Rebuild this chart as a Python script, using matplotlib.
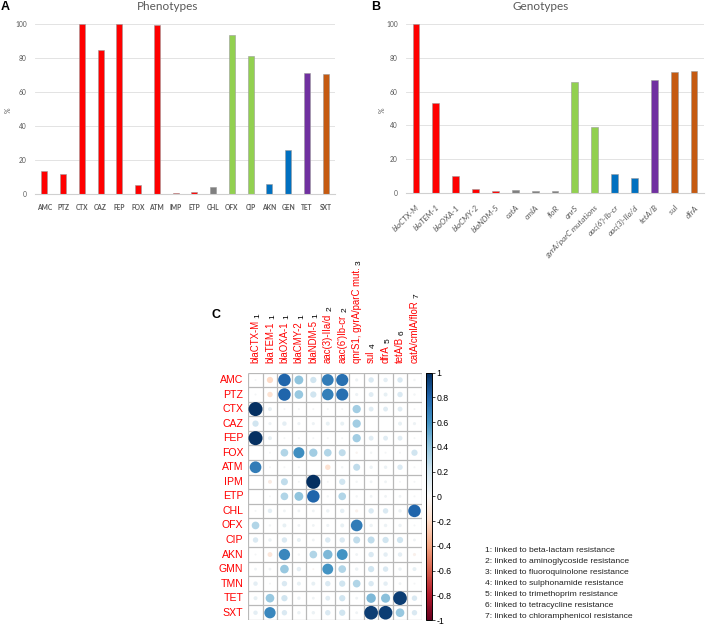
import matplotlib
matplotlib.use('Agg')
import matplotlib.pyplot as plt
import numpy as np
import matplotlib.colorbar as mcb
from matplotlib.colors import Normalize

# ---------------- data ----------------
pheno_labels = ['AMC', 'PTZ', 'CTX', 'CAZ', 'FEP', 'FOX', 'ATM', 'IMP', 'ETP', 'CHL',
                'OFX', 'CIP', 'AKN', 'GEN', 'TET', 'SXT']
pheno_values = [14, 12, 100, 85, 100, 5.5, 99.3, 1, 1.5, 4.5, 93.5, 81.5, 6.3, 26, 71.5, 71]
pheno_groups = ['r', 'r', 'r', 'r', 'r', 'r', 'r', 'r', 'r', 'k', 'g', 'g', 'b', 'b', 'p', 'o']

geno_labels = ['blaCTX-M', 'blaTEM-1', 'blaOXA-1', 'blaCMY-2', 'blaNDM-5', 'catA', 'cmlA', 'floR',
               'qnrS', 'gyrA/parC mutations', "aac(6')-Ib-cr", 'aac(3)-IIa/d', 'tetA/B', 'sul', 'dfrA']
geno_values = [100, 53.5, 10, 2, 0.8, 1.5, 0.8, 0.8, 66, 39, 11, 9, 67, 71.5, 72.5]
geno_groups = ['r', 'r', 'r', 'r', 'r', 'k', 'k', 'k', 'g', 'g', 'b', 'b', 'p', 'o', 'o']

group_colors = {'r': '#ff0000', 'k': '#7f7f7f', 'g': '#92d050', 'b': '#0070c0',
                'p': '#7030a0', 'o': '#c55a11'}

corr_rows = ['AMC', 'PTZ', 'CTX', 'CAZ', 'FEP', 'FOX', 'ATM', 'IPM', 'ETP', 'CHL', 'OFX',
             'CIP', 'AKN', 'GMN', 'TMN', 'TET', 'SXT']
corr_cols = ['blaCTX-M', 'blaTEM-1', 'blaOXA-1', 'blaCMY-2', 'blaNDM-5', 'aac(3)-IIa/d',
             "aac(6')Ib-cr", 'qnrS1, gyrA/parC mut.', 'sul', 'dfrA', 'tetA/B', 'catA/cmlA/floR']
corr_col_sup = ['1', '1', '1', '1', '1', '2', '2', '3', '4', '5', '6', '7']
corr_values = [
    [0.02, -0.20, 0.80, 0.40, 0.20, 0.70, 0.75, 0.05, 0.15, 0.10, 0.15, 0.03],  # AMC
    [0.02, -0.15, 0.80, 0.38, 0.20, 0.68, 0.75, 0.05, 0.12, 0.08, 0.15, 0.03],  # PTZ
    [1.00, 0.08, 0.02, 0.02, 0.02, 0.02, 0.02, 0.35, 0.12, 0.12, 0.12, 0.02],   # CTX
    [0.20, 0.05, 0.10, 0.05, 0.05, 0.08, 0.08, 0.35, 0.00, 0.00, 0.08, 0.05],   # CAZ
    [1.00, 0.08, 0.02, 0.02, 0.02, 0.02, 0.02, 0.35, 0.12, 0.12, 0.12, 0.02],   # FEP
    [0.00, 0.02, 0.30, 0.62, 0.35, 0.30, 0.25, -0.03, 0.03, 0.02, 0.02, 0.20],  # FOX
    [0.70, 0.02, 0.02, 0.02, 0.00, -0.15, 0.03, 0.25, 0.06, 0.06, 0.15, 0.02],  # ATM
    [0.00, -0.08, 0.25, 0.02, 1.00, 0.02, 0.20, 0.03, 0.04, 0.04, 0.02, 0.02],  # IPM
    [0.00, 0.02, 0.30, 0.40, 0.80, 0.03, 0.30, 0.03, 0.04, 0.04, 0.04, 0.02],   # ETP
    [0.02, 0.10, 0.04, 0.04, 0.04, 0.06, 0.10, -0.05, 0.15, 0.15, 0.06, 0.80],  # CHL
    [0.30, 0.03, 0.08, 0.04, 0.04, 0.05, 0.08, 0.70, 0.06, 0.06, 0.06, 0.02],   # OFX
    [0.15, 0.06, 0.15, 0.08, 0.04, 0.15, 0.15, 0.25, 0.25, 0.20, 0.20, 0.04],   # CIP
    [0.02, -0.12, 0.65, 0.03, 0.30, 0.45, 0.60, 0.04, 0.15, 0.10, 0.10, -0.05], # AKN
    [0.04, 0.04, 0.38, 0.10, -0.02, 0.60, 0.30, 0.06, 0.20, 0.15, 0.06, 0.08],  # GMN
    [0.10, 0.02, 0.15, 0.08, 0.08, 0.15, 0.20, 0.30, 0.15, 0.10, 0.04, 0.02],   # TMN
    [0.08, 0.38, 0.20, 0.06, 0.04, 0.12, 0.20, 0.04, 0.45, 0.42, 0.95, 0.15],   # TET
    [0.10, 0.65, 0.15, 0.06, 0.06, 0.15, 0.20, 0.04, 0.95, 0.95, 0.38, 0.15],   # SXT
]
cbar_ticks = [-1, -0.8, -0.6, -0.4, -0.2, 0, 0.2, 0.4, 0.6, 0.8, 1]

legend_lines = ['1: linked to beta-lactam resistance',
                '2: linked to aminoglycoside resistance',
                '3: linked to fluoroquinolone resistance',
                '4: linked to sulphonamide resistance',
                '5: linked to trimethoprim resistance',
                '6: linked to tetracycline resistance',
                '7: linked to chloramphenicol resistance']

# ---------------- layout helpers ----------------
W, H = 708, 627
DPI = 100
fig = plt.figure(figsize=(W / DPI, H / DPI), dpi=DPI)


def fx(px):
    return px / W


def fy(py):
    return 1 - py / H


BAR_FONT = 'Lato'
TXT_GRAY = '#595959'


def style_bar_axes(ax):
    for s in ['top', 'right', 'left']:
        ax.spines[s].set_visible(False)
    ax.spines['bottom'].set_color('#d0d0d0')
    ax.spines['bottom'].set_linewidth(0.8)
    ax.set_ylim(0, 100)
    ax.set_yticks([0, 20, 40, 60, 80, 100])
    ax.yaxis.grid(True, color='#dedede', linewidth=0.6)
    ax.set_axisbelow(True)
    ax.tick_params(axis='both', length=0)
    ax.tick_params(axis='y', pad=6, labelsize=4.8, labelcolor=TXT_GRAY)
    for t in ax.get_yticklabels():
        t.set_family(BAR_FONT)


# ---------------- Panel A ----------------
axA = fig.add_axes([fx(35), fy(194.3), fx(335) - fx(35), (194.3 - 24.3) / H])
xa = np.arange(len(pheno_labels))
axA.bar(xa, pheno_values, width=0.33, color=[group_colors[g] for g in pheno_groups],
        edgecolor='#9a9a9a', linewidth=0.4)
axA.set_xlim(-0.5, len(pheno_labels) - 0.5)
style_bar_axes(axA)
axA.set_xticks(xa)
axA.set_xticklabels(pheno_labels, fontsize=4.8, color=TXT_GRAY, family=BAR_FONT,
                    fontweight='bold')
axA.tick_params(axis='x', pad=7)
fig.text(fx(8), fy(110), '%', rotation=90, ha='center', va='center', fontsize=5,
         color=TXT_GRAY, family=BAR_FONT)
fig.text(fx(168), fy(7), 'Phenotypes', ha='center', va='center', fontsize=8.5,
         color=TXT_GRAY, family=BAR_FONT)
fig.text(fx(5.5), fy(7.5), 'A', ha='center', va='center', fontsize=9, fontweight='bold',
         family='Liberation Sans')

# ---------------- Panel B ----------------
axB = fig.add_axes([fx(406), fy(192.7), fx(704) - fx(406), (192.7 - 24.3) / H])
xb = np.arange(len(geno_labels))
axB.bar(xb, geno_values, width=0.34, color=[group_colors[g] for g in geno_groups],
        edgecolor='#9a9a9a', linewidth=0.4)
axB.set_xlim(-0.5, len(geno_labels) - 0.5)
style_bar_axes(axB)
axB.set_xticks(xb)
axB.set_xticklabels(geno_labels, fontsize=5.8, color=TXT_GRAY, family=BAR_FONT,
                    style='italic', rotation=45, ha='right', va='top',
                    rotation_mode='anchor')
axB.tick_params(axis='x', pad=8)
fig.text(fx(382), fy(110), '%', rotation=90, ha='center', va='center', fontsize=5,
         color=TXT_GRAY, family=BAR_FONT)
fig.text(fx(541), fy(7), 'Genotypes', ha='center', va='center', fontsize=8.5,
         color=TXT_GRAY, family=BAR_FONT)
fig.text(fx(376), fy(7), 'B', ha='center', va='center', fontsize=9, fontweight='bold',
         family='Liberation Sans')

# ---------------- Panel C ----------------
gl, gr, gt, gb = 248.3, 421.7, 372.7, 620.0
axC = fig.add_axes([fx(gl), fy(gb), (gr - gl) / W, (gb - gt) / H])
nr, nc = len(corr_rows), len(corr_cols)
axC.set_xlim(0, nc)
axC.set_ylim(nr, 0)
axC.axis('off')
grid_col = '#b9b9b9'
axC.hlines(np.arange(nr + 1), 0, nc, color=grid_col, linewidth=0.9, zorder=1)
axC.vlines(np.arange(nc + 1), 0, nr, color=grid_col, linewidth=0.9, zorder=1)

cmap = plt.get_cmap('RdBu')
norm = Normalize(-1, 1)
cell_px = (gr - gl) / nc
vals = np.array(corr_values)
xs, ys, ss, cs = [], [], [], []
for i in range(nr):
    for j in range(nc):
        r = vals[i, j]
        if r == 0:
            continue
        d_px = 0.97 * np.sqrt(abs(r)) * cell_px
        xs.append(j + 0.5)
        ys.append(i + 0.5)
        ss.append((d_px * 72 / DPI) ** 2)
        cs.append(cmap(norm(r)))
axC.scatter(xs, ys, s=ss, c=cs, linewidths=0, zorder=2)

LAB_FONT = 'Liberation Sans'
for i, lab in enumerate(corr_rows):
    axC.text(-0.35, i + 0.5, lab, ha='right', va='center', color='red', fontsize=7.6,
             family=LAB_FONT)
col_texts = []
for j, lab in enumerate(corr_cols):
    t = axC.text(j + 0.5, -0.65, lab, ha='center', va='bottom', rotation=90, color='red',
                 fontsize=6.9, family=LAB_FONT)
    col_texts.append(t)

fig.text(fx(216), fy(314.5), 'C', ha='center', va='center', fontsize=9, fontweight='bold',
         family='Liberation Sans')

# colorbar
cax = fig.add_axes([fx(425.5), fy(gb), 6.8 / W, (gb - gt) / H])
cb = mcb.ColorbarBase(cax, cmap=cmap, norm=norm, orientation='vertical', ticks=cbar_ticks)
cb.ax.set_yticklabels([('%g' % v) for v in cbar_ticks])
cb.ax.tick_params(length=2, width=0.5, pad=0.8, labelsize=6.3, direction='out')
for t in cb.ax.get_yticklabels():
    t.set_family(LAB_FONT)
cb.outline.set_linewidth(0.7)

# legend text
for k, line in enumerate(legend_lines):
    fig.text(fx(485), fy(551 + k * 10.9), line, ha='left', va='center', fontsize=6.1,
             family=LAB_FONT, color='#222222')

# superscripts on column labels
fig.canvas.draw()
renderer = fig.canvas.get_renderer()
for t, sup in zip(col_texts, corr_col_sup):
    bb = t.get_window_extent(renderer)
    cx = (bb.x0 + bb.x1) / 2 + 2.5
    fig.text(cx / W, (bb.y1 + 2.5) / H, sup, rotation=90, ha='center', va='bottom',
             fontsize=6, color='black', family=LAB_FONT)

fig.savefig('out.png', dpi=DPI)
